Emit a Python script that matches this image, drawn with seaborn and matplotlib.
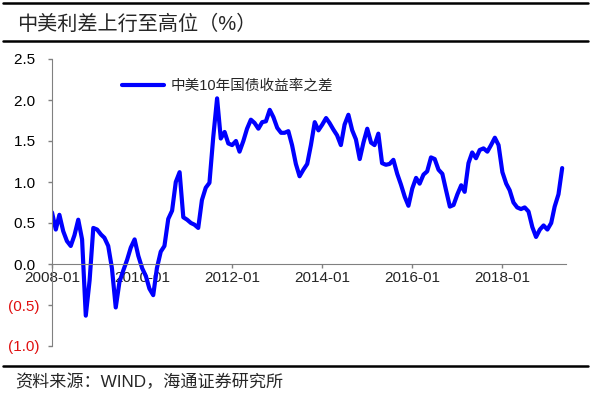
import pandas as pd
import matplotlib.pyplot as plt
import seaborn as sns
from matplotlib.lines import Line2D
from matplotlib.ticker import FuncFormatter


# Monthly China-US 10Y yield spread, 2008-01 .. 2019-05
start_month = "2008-01-01"
spread = [
    0.63, 0.42, 0.60, 0.40, 0.28, 0.22, 0.35, 0.54, 0.30, -0.63,
    -0.20, 0.44, 0.42, 0.36, 0.32, 0.22, -0.05, -0.53, -0.22, -0.08,
    0.05, 0.20, 0.30, 0.10, -0.05, -0.15, -0.30, -0.38, -0.05, 0.15,
    0.22, 0.55, 0.65, 1.00, 1.12, 0.57, 0.54, 0.50, 0.48, 0.44,
    0.78, 0.93, 0.99, 1.55, 2.02, 1.53, 1.61, 1.47, 1.45, 1.50,
    1.37, 1.50, 1.65, 1.76, 1.72, 1.65, 1.73, 1.74, 1.88, 1.79,
    1.66, 1.60, 1.60, 1.62, 1.45, 1.22, 1.07, 1.15, 1.22, 1.45,
    1.73, 1.63, 1.70, 1.78, 1.72, 1.64, 1.57, 1.45, 1.70, 1.82,
    1.63, 1.52, 1.28, 1.48, 1.65, 1.48, 1.45, 1.59, 1.23, 1.21,
    1.22, 1.27, 1.10, 0.97, 0.82, 0.71, 0.92, 1.05, 0.98, 1.09,
    1.13, 1.30, 1.28, 1.15, 1.10, 0.90, 0.70, 0.72, 0.85, 0.96,
    0.88, 1.23, 1.36, 1.29, 1.39, 1.41, 1.37, 1.45, 1.54, 1.45,
    1.12, 0.98, 0.90, 0.75, 0.69, 0.67, 0.69, 0.64, 0.45, 0.33,
    0.42, 0.47, 0.42, 0.50, 0.70, 0.85, 1.17,
]
months = pd.date_range(start_month, periods=len(spread), freq="MS")

series_name = "中美10年国债收益率之差"
title = "中美利差上行至高位（%）"
source = "资料来源：WIND，海通证券研究所"
x_ticks = ["2008-01", "2010-01", "2012-01", "2014-01", "2016-01", "2018-01"]
y_ticks = [-1.0, -0.5, 0.0, 0.5, 1.0, 1.5, 2.0, 2.5]

df = pd.DataFrame({"date": months, "spread": spread})

sns.set_style("white")
plt.rcParams["font.family"] = ["Liberation Sans", "Noto Sans CJK SC", "DejaVu Sans"]

W, H = 592, 394
fig = plt.figure(figsize=(W / 100, H / 100), dpi=100)
ax = fig.add_axes([52 / W, 1 - 346 / H, (566 - 52) / W, (346 - 59) / H])

sns.lineplot(data=df, x="date", y="spread", color="#0000FF", linewidth=3.0,
             label=series_name, ax=ax, solid_joinstyle="round",
             solid_capstyle="round")

ax.set_xlim(pd.Timestamp("2008-01-01"), pd.Timestamp("2019-06-01"))
ax.set_ylim(-1.0, 2.5)
ax.set_xticks(pd.to_datetime(x_ticks))
ax.set_xticklabels(x_ticks)
ax.set_yticks(y_ticks)


def fmt(v, pos):
    if v < 0:
        return f"({abs(v):.1f})"
    return f"{v:.1f} "


ax.yaxis.set_major_formatter(FuncFormatter(fmt))
for lab, v in zip(ax.get_yticklabels(), y_ticks):
    lab.set_color("#E01010" if v < 0 else "black")

ax.set_xlabel("")
ax.set_ylabel("")
for s in ["top", "right"]:
    ax.spines[s].set_visible(False)
ax.spines["bottom"].set_position(("data", 0))
ax.spines["bottom"].set_color("#808080")
ax.spines["left"].set_color("#808080")
ax.tick_params(axis="both", labelsize=11, length=3, width=1, color="#808080",
               direction="out")
ax.tick_params(axis="y", pad=6)
ax.tick_params(axis="x", pad=2)
ax.tick_params(bottom=True, left=True)
ax.patch.set_alpha(0)

leg = ax.legend(loc="center left", bbox_to_anchor=(122 / W, 1 - 86 / H),
                bbox_transform=fig.transFigure, frameon=False, fontsize=10.5,
                handlelength=2.9, handletextpad=0.45, borderpad=0, borderaxespad=0)
leg.get_lines()[0].set_linewidth(3.0)

# header / footer rules and text
for y in [3, 41, 366]:
    fig.add_artist(Line2D([3 / W, 588 / W], [1 - y / H, 1 - y / H],
                          transform=fig.transFigure, color="black", lw=1.8))
fig.text(17 / W, 1 - 24 / H, title, fontsize=14.5, ha="left", va="center",
         fontweight="medium")
fig.text(15 / W, 1 - 382 / H, source, fontsize=12.3, ha="left", va="center")

fig.savefig("out.png", dpi=100)
